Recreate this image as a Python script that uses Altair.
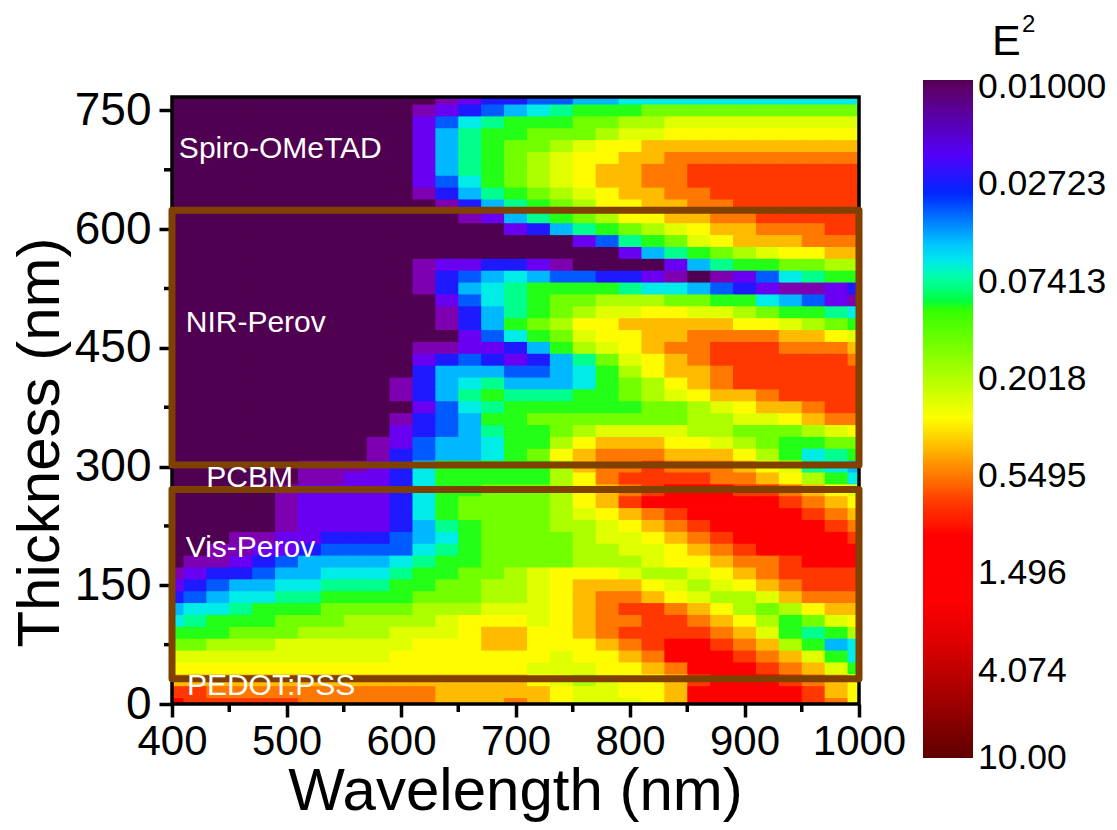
import altair as alt
import pandas as pd

FONT = "Liberation Sans"

wavelengths = list(range(400, 1001, 20))
thickness = list(range(765, -1, -15))

level_codes = "abcdefghijklmnopq"
level_values = [0.0093, 0.01243, 0.01774, 0.02634, 0.03486, 0.04802, 0.0611, 0.0759, 0.0944,
                0.1403, 0.1946, 0.2576, 0.311, 0.409, 0.542, 0.717, 1.15]

rows = [
    "aaaaaaaaaaaabcddeeffggggggggggg",
    "aaaaaaaaaaabcdefghiiijjjjjjjjjj",
    "aaaaaaaaaaaceghiiijjkklllllllll",
    "aaaaaaaaaaacfhiijjjkllmmmmmmmmm",
    "aaaaaaaaaaacfhijjklmmnnnnnnnnnn",
    "aaaaaaaaaaacfhijklmmnnooooooooo",
    "aaaaaaaaaaacfhijklmnnoopppppppp",
    "aaaaaaaaaaacegijklmnnoopppppppp",
    "aaaaaaaaaaabdfhijklmnnooppppppp",
    "aaaaaaaaaaaabdfhijkmmnnoopppppp",
    "aaaaaaaaaaaaabcfhijkmmnnooppppp",
    "aaaaaaaaaaaaaaacdfhijklmnnooopp",
    "aaaaaaaaaaaaaaaaaacehijlmnnnooo",
    "aaaaaaaaaaaaaaaaaaaacfhijklmmnn",
    "aaaaaaaaaaabccddcbaaaacfhiijjkk",
    "aaaaaaaaaaabdefgfeeddcbabceghii",
    "aaaaaaaaaaabdfghiiiihggfedcbbcd",
    "aaaaaaaaaaaaceghijjkkkjjiigfecb",
    "aaaaaaaaaaaabdfhijkllmmllkjiihg",
    "aaaaaaaaaaaabdfijkmmnnnnnmmlkji",
    "aaaaaaaaaaaaacegijlmmnnoooonnml",
    "aaaaaaaaaaabbccdfiklmnoopppooon",
    "aaaaaaaaaaacdedcdfhjlmnoppppppo",
    "aaaaaaaaaaadfffeefgikmnnopppppp",
    "aaaaaaaaaabdfghfffgijkmnopppppp",
    "aaaaaaaaaabdfhihhhiijklmnnopppp",
    "aaaaaaaaaaaceghiiiiiijjklmnnopp",
    "aaaaaaaaaabdefiijjjjjjjkkllmnoo",
    "aaaaaaaaaacdefhiijkllllkkjjjklm",
    "aaaaaaaaabceffgiikmnnnmmlkjiijj",
    "aaaaaaaaabdeffgijmnooonnnmkighi",
    "aaaaaabbbcdgiiiiiknoopooonmlhgf",
    "aaaaaabbccdgiiiiikmoppppoonmkig",
    "aaaaabccccdgiijjjkmnopqqqpponml",
    "aaaaabccccdgijjjjkmnpqqqqqqponm",
    "aaaaabccccdgijjjjklmnopqqqqqpon",
    "aaaaabccccdfhijjjkklmnopqqqqqpo",
    "aaabbccdddefgijjjjkllmnopqqqqqp",
    "aabbccdeeeeghijjjjkkllmnopqqqqq",
    "abbcdeffffghiijjjjkkklmmnoopqqq",
    "bcddeffggghiijjklmmmlkklmnopppp",
    "cdeffgghhhiijjkklmnnnmlklmnoppp",
    "defgghhiiiijjjkklmnoonmlkklnooo",
    "fgghiiijjjjkkklllmnopponmkjkmnn",
    "ghiiijjjkkkklmmmlmnoopponmkijlm",
    "iiijjjkkkklllmnnmmnopppponlihik",
    "jjkkkllllllmmmnnmmmnopqqponkifg",
    "llllllllllmmmmmmmlmmnoqqqponlig",
    "mmmmmmmmmmmmmmmmlllmmnoqqqponli",
    "nnnnnnnnnnnnnnnnmlklmmnpqqqponm",
    "ppoooooooooonnnnnmllmmnqqqqqpnm",
    "qpppppoooooonnnonmlllmnqqqqqpom",
]

color_stops = ["#500050", "#7d00b1", "#7300ed", "#3400ff", "#0023ff", "#007cff", "#00d4ff",
               "#0dffa1", "#28ff00", "#5dff00", "#93ff00", "#c8ff00", "#ffff00", "#ffbb00",
               "#ff7600", "#ff3000", "#ff0000", "#ff0000", "#ff0000", "#fb0000", "#dc0000",
               "#bd0000", "#9e0000", "#7f0000", "#600000"]

legend_ticks = [0.01, 0.02723, 0.07413, 0.2018, 0.5495, 1.496, 4.074, 10.0]

x_major = [400, 500, 600, 700, 800, 900, 1000]
x_minor = [450, 550, 650, 750, 850, 950]
y_major = [0, 150, 300, 450, 600, 750]
y_minor = [75, 225, 375, 525, 675]

box_bottom = [302, 32]
box_top = [624, 271]

label_text = ["Spiro-OMeTAD", "NIR-Perov", "PCBM", "Vis-Perov", "PEDOT:PSS"]
label_wl = [406, 412, 430, 412, 413]
label_t = [701, 481, 286, 197, 23]

lookup = dict(zip(level_codes, level_values))
records = []
for t, row in zip(thickness, rows):
    assert len(row) == 31, row
    for wl, code in zip(wavelengths, row):
        records.append({"x0": wl - 10, "x1": wl + 11, "y0": t - 8.5, "y1": t + 7.5,
                        "E2": lookup[code]})
cells = pd.DataFrame(records)

x_scale = alt.Scale(domain=[400, 1000], nice=False, zero=False)
y_scale = alt.Scale(domain=[0, 767], nice=False, zero=False)
c_scale = alt.Scale(type="log", domain=[10.02, 0.0093], range=color_stops[::-1])

x_axis = alt.Axis(title="Wavelength (nm)", values=x_major, format="d", grid=False, domain=False,
                  tickSize=13, tickWidth=3.5, tickColor="black", labelFontSize=42, labelFont=FONT,
                  labelColor="black", labelPadding=4, labelFlush=False, titleFont=FONT, titleFontSize=60,
                  titleFontWeight="normal", titleColor="black", titleX=343, titleY=105,
                  titleBaseline="alphabetic")
y_axis = alt.Axis(title="Thickness (nm)", values=y_major, format="d", grid=False, domain=False,
                  tickSize=13, tickWidth=3.5, tickColor="black", labelFontSize=46, labelFont=FONT,
                  labelColor="black", labelPadding=8, titleFont=FONT, titleFontSize=60,
                  titleFontWeight="normal", titleColor="black", titleX=-114, titleY=345,
                  titleBaseline="alphabetic")

legend = alt.Legend(title=None, type="gradient", orient="none", legendX=751, legendY=-17,
                    gradientLength=678, gradientThickness=50, values=legend_ticks,
                    labelFont=FONT, labelFontSize=35.5, labelColor="black", labelOffset=5,
                    labelOverlap=False,
                    labelExpr="format(datum.value,datum.value<0.1?'.5f':(datum.value<1?'.4f':(datum.value<10?'.3f':'.2f')))")

heat = alt.Chart(cells).mark_rect(clip=True).encode(
    x=alt.X("x0:Q", scale=x_scale, axis=x_axis),
    x2="x1:Q",
    y=alt.Y("y0:Q", scale=y_scale, axis=y_axis),
    y2="y1:Q",
    color=alt.Color("E2:Q", scale=c_scale, legend=legend),
)

frame_df = pd.DataFrame({"x0": [400], "x1": [1000], "y0": [0], "y1": [767]})
frame = alt.Chart(frame_df).mark_rect(fillOpacity=0, stroke="black", strokeWidth=3.5).encode(
    x=alt.X("x0:Q", scale=x_scale), x2="x1:Q", y=alt.Y("y0:Q", scale=y_scale), y2="y1:Q")

boxes_df = pd.DataFrame({"x0": [400, 400], "x1": [1000, 1000], "y0": box_bottom, "y1": box_top})
boxes = alt.Chart(boxes_df).mark_rect(fillOpacity=0, stroke="#7f4000", strokeWidth=7,
                                      strokeJoin="round").encode(
    x=alt.X("x0:Q", scale=x_scale), x2="x1:Q", y=alt.Y("y0:Q", scale=y_scale), y2="y1:Q")

labels_df = pd.DataFrame({"wl": label_wl, "t": label_t, "s": label_text})
labels = alt.Chart(labels_df).mark_text(align="left", baseline="middle", font=FONT, fontSize=30,
                                        color="white").encode(
    x=alt.X("wl:Q", scale=x_scale), y=alt.Y("t:Q", scale=y_scale), text="s:N")

xm = alt.Chart(pd.DataFrame({"v": x_minor})).mark_rule(color="black", strokeWidth=3.5).encode(
    x=alt.X("v:Q", scale=x_scale), y=alt.value(607), y2=alt.value(615))
ym = alt.Chart(pd.DataFrame({"v": y_minor})).mark_rule(color="black", strokeWidth=3.5).encode(
    y=alt.Y("v:Q", scale=y_scale), x=alt.value(-8), x2=alt.value(0))

e_title = alt.Chart(pd.DataFrame({"s": ["E"]})).mark_text(
    align="left", baseline="alphabetic", font=FONT, fontSize=43, color="black").encode(
    x=alt.value(820), y=alt.value(-42), text="s:N")
e_sup = alt.Chart(pd.DataFrame({"s": ["2"]})).mark_text(
    align="left", baseline="alphabetic", font=FONT, fontSize=24, color="black").encode(
    x=alt.value(850), y=alt.value(-65), text="s:N")

chart = alt.layer(heat, frame, xm, ym, boxes, labels, e_title, e_sup).properties(
    width=687, height=607,
    autosize=alt.AutoSizeParams(type="none"),
    padding={"left": 164, "top": 89, "right": 250, "bottom": 118},
    background="white",
).configure_view(stroke=None)

chart.save("out.html", embed_options={"renderer": "svg", "actions": False})
